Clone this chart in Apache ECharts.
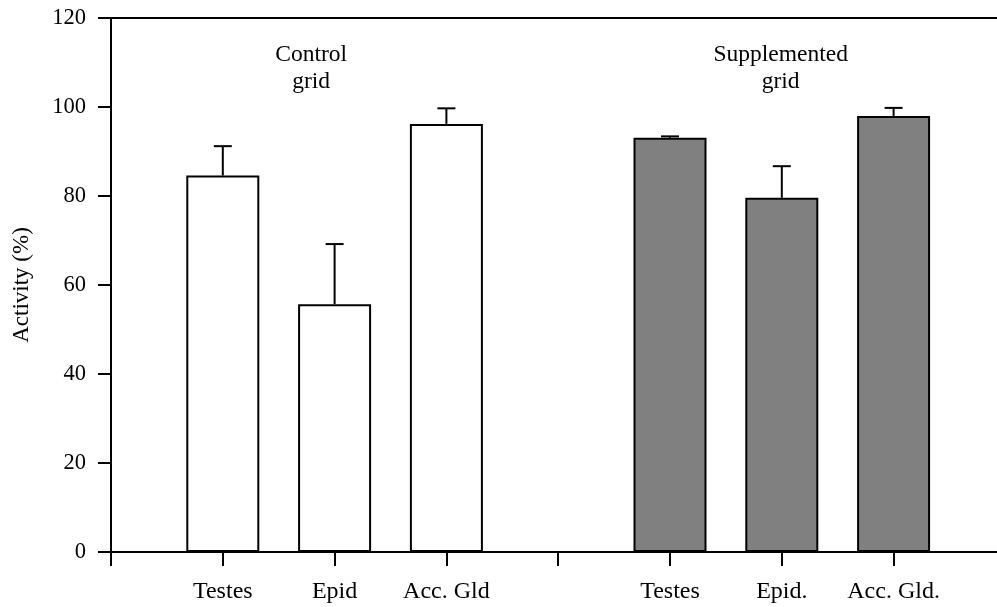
<!DOCTYPE html>
<html>
<head>
<meta charset="utf-8">
<script src="https://cdn.jsdelivr.net/npm/echarts@6/dist/echarts.min.js"></script>
<style>
  html, body { margin: 0; padding: 0; background: #fff; }
  #chart { width: 997px; height: 607px; }
</style>
</head>
<body>
<div id="chart"></div>
<script>
// Axis positions: 0..8, bars sit on 1-3 (control) and 5-7 (supplemented)
const tickLabels = ['', 'Testes', 'Epid', 'Acc. Gld', '', 'Testes', 'Epid.', 'Acc. Gld.', ''];
const controlPos = [1, 2, 3];
const supplementedPos = [5, 6, 7];

// Mean activity (%) and upper error (SEM)
const controlValues = [84.6, 55.7, 96.2];
const controlErrors = [6.6, 13.5, 3.5];
const supplementedValues = [93.1, 79.6, 98.0];
const supplementedErrors = [0.3, 7.1, 1.8];

// Group headings
const groupTitles = ['Control\ngrid', 'Supplemented\ngrid'];
const groupTitlePos = [[1.79, 108.8], [5.99, 108.8]];

const FONT = '"Liberation Serif", "Times New Roman", serif';
const INK = '#000';

const pair = (xs, ys) => xs.map((x, i) => [x, ys[i]]);
const errData = (xs, ys, es) => xs.map((x, i) => [x, ys[i], ys[i] + es[i]]);

function renderErr(params, api) {
  const base = api.coord([api.value(0), api.value(1)]);
  const top = api.coord([api.value(0), api.value(2)]);
  const half = 9;
  const style = { stroke: INK, lineWidth: 2, fill: null };
  return {
    type: 'group',
    children: [
      { type: 'line', shape: { x1: base[0], y1: base[1], x2: top[0], y2: top[1] }, style },
      { type: 'line', shape: { x1: top[0] - half, y1: top[1], x2: top[0] + half, y2: top[1] }, style }
    ]
  };
}

const chart = echarts.init(document.getElementById('chart'), null, { renderer: 'canvas' });
chart.setOption({
  animation: false,
  backgroundColor: '#fff',
  textStyle: { fontFamily: FONT, color: INK },
  grid: {
    left: 111, top: 18, bottom: 55, right: -8.4,
    containLabel: false, outerBoundsMode: 'none'
  },
  xAxis: [
    {
      type: 'value', min: 0, max: 8, interval: 1,
      axisLine: { show: true, onZero: false, lineStyle: { color: INK, width: 2 } },
      axisTick: { show: true, inside: false, length: 14, lineStyle: { color: INK, width: 2 } },
      axisLabel: {
        margin: 28, fontSize: 24, fontFamily: FONT, color: INK,
        formatter: v => tickLabels[Math.round(v)] || ''
      },
      splitLine: { show: false }
    },
    {
      type: 'value', min: 0, max: 8, position: 'top',
      axisLine: { show: true, onZero: false, lineStyle: { color: INK, width: 2 } },
      axisTick: { show: false }, axisLabel: { show: false }, splitLine: { show: false }
    }
  ],
  yAxis: {
    type: 'value', min: 0, max: 120, interval: 20,
    name: 'Activity (%)', nameLocation: 'middle', nameGap: 78, nameRotate: 90,
    nameTextStyle: { fontSize: 23, fontFamily: FONT, color: INK },
    axisLine: { show: true, lineStyle: { color: INK, width: 2 } },
    axisTick: { show: true, inside: false, length: 13, lineStyle: { color: INK, width: 2 } },
    axisLabel: { margin: 25, fontSize: 22.5, fontFamily: FONT, color: INK },
    splitLine: { show: false }
  },
  series: [
    {
      name: 'Control grid', type: 'bar', barWidth: 73, barGap: '-100%',
      data: pair(controlPos, controlValues),
      itemStyle: { color: '#fff', borderColor: INK, borderWidth: 2 }
    },
    {
      name: 'Supplemented grid', type: 'bar', barWidth: 73, barGap: '-100%',
      data: pair(supplementedPos, supplementedValues),
      itemStyle: { color: '#808080', borderColor: INK, borderWidth: 2 }
    },
    {
      type: 'custom', renderItem: renderErr, z: 5,
      data: errData(controlPos, controlValues, controlErrors)
    },
    {
      type: 'custom', renderItem: renderErr, z: 5,
      data: errData(supplementedPos, supplementedValues, supplementedErrors)
    },
    {
      type: 'scatter', symbolSize: 0, silent: true,
      itemStyle: { opacity: 1 },
      data: groupTitlePos.map((p, i) => ({ value: p, name: groupTitles[i] })),
      label: {
        show: true, position: 'inside', formatter: p => p.name,
        fontSize: 23.5, lineHeight: 27, fontFamily: FONT, color: INK, align: 'center'
      }
    }
  ]
});
</script>
</body>
</html>
